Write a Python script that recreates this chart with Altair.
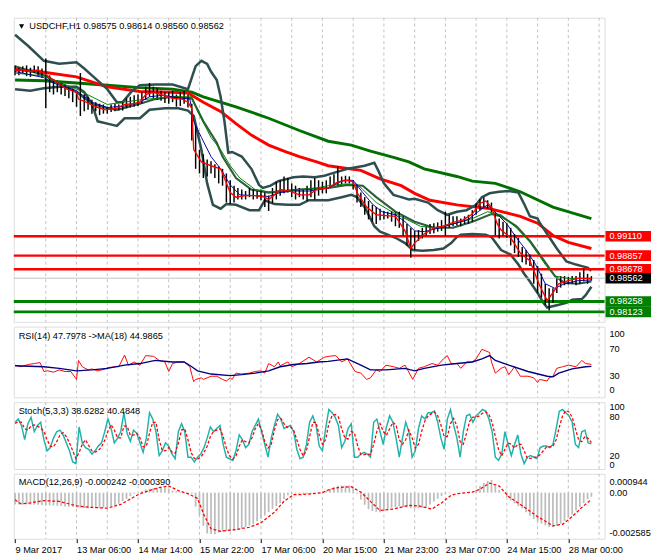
import altair as alt
import pandas as pd

# ------------------------------------------------------------------ texts
symbol_title = "USDCHF,H1  0.98575 0.98614 0.98560 0.98562"
rsi_title = "RSI(14) 47.7978  ->MA(18) 44.9865"
stoch_title = "Stoch(5,3,3) 38.6282 40.4848"
macd_title = "MACD(12,26,9) -0.000242 -0.000390"

date_labels = ["9 Mar 2017", "13 Mar 06:00", "14 Mar 14:00", "15 Mar 22:00", "17 Mar 06:00",
               "20 Mar 15:00", "21 Mar 23:00", "23 Mar 07:00", "24 Mar 15:00", "28 Mar 00:00"]
date_label_bars = [0, 32, 64, 96, 128, 160, 192, 224, 256, 288]
grid_bars = [16, 32, 48, 64, 80, 96, 112, 128, 144, 160, 176, 192, 208, 224, 240, 256, 272, 288, 304]

price_ticks = [1.01700, 1.01290, 1.00880, 1.00470, 1.00070, 0.99660, 0.99250, 0.98430, 0.98020]
level_values = [0.99110, 0.98857, 0.98678, 0.98562, 0.98258, 0.98123]
level_kinds = ["res", "res", "res", "last", "sup", "sup"]

# ------------------------------------------------------------------ price bars (one per 2 hours)
bar_high = [1.0134, 1.0131, 1.0133, 1.0134, 1.0131, 1.0134, 1.0133, 1.0130, 1.0143, 1.0121,
            1.0116, 1.0114, 1.0111, 1.0109, 1.0105, 1.0104, 1.0099, 1.0124, 1.0096, 1.0093,
            1.0089, 1.0086, 1.0084, 1.0083, 1.0080, 1.0083, 1.0084, 1.0083, 1.0086, 1.0091,
            1.0093, 1.0095, 1.0096, 1.0099, 1.0106, 1.0111, 1.0106, 1.0104, 1.0101, 1.0099,
            1.0099, 1.0101, 1.0096, 1.0099, 1.0101, 1.0096, 1.0084, 1.0055, 1.0024, 1.0018,
            1.0011, 1.0009, 1.0005, 1.0002, 0.9999, 0.9993, 0.9984, 0.9977, 0.9974, 0.9972,
            0.9970, 0.9974, 0.9972, 0.9970, 0.9972, 0.9968, 0.9964, 0.9974, 0.9982, 0.9984,
            0.9989, 0.9987, 0.9980, 0.9977, 0.9974, 0.9972, 0.9977, 0.9984, 0.9987, 0.9984,
            0.9982, 0.9984, 0.9989, 0.9992, 1.0002, 0.9989, 0.9990, 0.9989, 0.9984, 0.9977,
            0.9968, 0.9962, 0.9957, 0.9952, 0.9949, 0.9947, 0.9944, 0.9943, 0.9944, 0.9942,
            0.9943, 0.9937, 0.9927, 0.9922, 0.9918, 0.9919, 0.9922, 0.9924, 0.9927, 0.9928,
            0.9929, 0.9932, 0.9943, 0.9939, 0.9937, 0.9937, 0.9934, 0.9937, 0.9939, 0.9945,
            0.9954, 0.9959, 0.9962, 0.9958, 0.9955, 0.9943, 0.9934, 0.9930, 0.9928, 0.9922,
            0.9914, 0.9909, 0.9897, 0.9893, 0.9887, 0.9880, 0.9872, 0.9862, 0.9849, 0.9843,
            0.9843, 0.9856, 0.9859, 0.9859, 0.9858, 0.9859, 0.9859, 0.9864, 0.9869, 0.9862, 0.9859]
bar_low = [1.0121, 1.0121, 1.0124, 1.0120, 1.0119, 1.0124, 1.0121, 1.0118, 1.0078, 1.0099,
           1.0096, 1.0099, 1.0096, 1.0094, 1.0091, 1.0086, 1.0080, 1.0068, 1.0074, 1.0076,
           1.0071, 1.0074, 1.0069, 1.0071, 1.0071, 1.0073, 1.0074, 1.0075, 1.0075, 1.0078,
           1.0079, 1.0080, 1.0081, 1.0084, 1.0089, 1.0093, 1.0091, 1.0089, 1.0088, 1.0085,
           1.0084, 1.0086, 1.0080, 1.0081, 1.0084, 1.0079, 1.0036, 0.9999, 0.9993, 0.9987,
           0.9989, 0.9993, 0.9987, 0.9980, 0.9977, 0.9955, 0.9953, 0.9955, 0.9959, 0.9959,
           0.9959, 0.9962, 0.9959, 0.9960, 0.9958, 0.9949, 0.9944, 0.9954, 0.9959, 0.9964,
           0.9967, 0.9968, 0.9962, 0.9959, 0.9962, 0.9959, 0.9957, 0.9962, 0.9959, 0.9964,
           0.9967, 0.9967, 0.9974, 0.9977, 0.9977, 0.9979, 0.9980, 0.9980, 0.9972, 0.9955,
           0.9949, 0.9939, 0.9933, 0.9930, 0.9927, 0.9932, 0.9933, 0.9934, 0.9930, 0.9924,
           0.9922, 0.9912, 0.9899, 0.9883, 0.9893, 0.9905, 0.9908, 0.9912, 0.9914, 0.9915,
           0.9917, 0.9918, 0.9912, 0.9922, 0.9924, 0.9925, 0.9924, 0.9927, 0.9927, 0.9930,
           0.9939, 0.9945, 0.9949, 0.9947, 0.9942, 0.9912, 0.9908, 0.9912, 0.9909, 0.9899,
           0.9889, 0.9884, 0.9877, 0.9874, 0.9872, 0.9849, 0.9837, 0.9831, 0.9821, 0.9814,
           0.9824, 0.9837, 0.9844, 0.9847, 0.9848, 0.9849, 0.9847, 0.9849, 0.9852, 0.9849, 0.9853]

# ------------------------------------------------------------------ moving averages / bands (bar index, price)
ma_fast_red = [(0, 1.0128), (4, 1.0128), (8, 1.0126), (12, 1.0128), (15, 1.0124), (20, 1.0115), (27, 1.0103),
               (32, 1.0099), (33, 1.0090), (37, 1.0086), (42, 1.0080), (47, 1.0076), (53, 1.0078), (57, 1.0083),
               (62, 1.0084), (65, 1.0086), (68, 1.0096), (72, 1.0099), (77, 1.0095), (82, 1.0091), (87, 1.0090),
               (90, 1.0086), (92, 1.0078), (93, 1.0024), (97, 1.0008), (102, 1.0003), (107, 0.9999), (112, 0.9968),
               (115, 0.9962), (120, 0.9964), (125, 0.9964), (130, 0.9962), (132, 0.9959), (135, 0.9965),
               (138, 0.9972), (143, 0.9970), (148, 0.9965), (153, 0.9965), (157, 0.9972), (163, 0.9974),
               (168, 0.9982), (173, 0.9984), (176, 0.9982), (178, 0.9968), (183, 0.9949), (188, 0.9939),
               (193, 0.9938), (198, 0.9937), (203, 0.9918), (206, 0.9895), (208, 0.9902), (213, 0.9914),
               (218, 0.9922), (223, 0.9924), (228, 0.9929), (233, 0.9932), (238, 0.9940), (242, 0.9954),
               (245, 0.9957), (248, 0.9949), (251, 0.9927), (253, 0.9919), (258, 0.9909), (263, 0.9889),
               (268, 0.9879), (273, 0.9847), (277, 0.9827), (281, 0.9841), (283, 0.9849), (288, 0.9853),
               (293, 0.9856), (298, 0.9856), (300, 0.9856)]
ma_blue = [(0, 1.0126), (15, 1.0118), (20, 1.0111), (32, 1.0101), (40, 1.0086), (48, 1.0079), (57, 1.0081),
           (65, 1.0086), (70, 1.0093), (77, 1.0095), (87, 1.0091), (91, 1.0090), (93, 1.0061), (97, 1.0040),
           (102, 1.0015), (107, 0.9999), (112, 0.9978), (117, 0.9965), (125, 0.9964), (132, 0.9963),
           (138, 0.9968), (145, 0.9970), (153, 0.9970), (163, 0.9974), (171, 0.9984), (176, 0.9984),
           (181, 0.9968), (186, 0.9953), (191, 0.9943), (198, 0.9939), (203, 0.9930), (208, 0.9918),
           (213, 0.9917), (221, 0.9922), (228, 0.9927), (236, 0.9933), (241, 0.9943), (246, 0.9952),
           (251, 0.9940), (256, 0.9927), (261, 0.9909), (266, 0.9893), (271, 0.9874), (276, 0.9849),
           (281, 0.9843), (286, 0.9849), (293, 0.9853), (300, 0.9854)]
ma_green_thin = [(0, 1.0124), (15, 1.0120), (32, 1.0103), (48, 1.0083), (65, 1.0089), (82, 1.0093), (92, 1.0093),
                 (95, 1.0074), (102, 1.0040), (107, 1.0024), (112, 1.0003), (117, 0.9987), (125, 0.9972),
                 (132, 0.9969), (140, 0.9970), (148, 0.9972), (157, 0.9974), (163, 0.9977), (171, 0.9979),
                 (178, 0.9979), (181, 0.9972), (188, 0.9955), (196, 0.9943), (203, 0.9934), (211, 0.9924),
                 (218, 0.9922), (228, 0.9927), (238, 0.9934), (246, 0.9943), (253, 0.9939), (261, 0.9922),
                 (268, 0.9903), (276, 0.9874), (281, 0.9859), (288, 0.9856), (300, 0.9856)]
bb_mid = [(0, 1.0133), (15, 1.0121), (32, 1.0099), (40, 1.0084), (48, 1.0078), (53, 1.0076), (65, 1.0084),
          (73, 1.0090), (82, 1.0093), (92, 1.0091), (98, 1.0061), (105, 1.0033), (108, 1.0015), (115, 0.9987),
          (123, 0.9972), (132, 0.9968), (140, 0.9970), (148, 0.9972), (163, 0.9974), (173, 0.9978),
          (181, 0.9977), (188, 0.9962), (198, 0.9943), (208, 0.9930), (218, 0.9922), (228, 0.9922),
          (238, 0.9930), (248, 0.9940), (253, 0.9937), (261, 0.9924), (268, 0.9905), (276, 0.9877),
          (281, 0.9859), (286, 0.9850), (293, 0.9849), (300, 0.9852)]
bb_upper = [(0, 1.0174), (7, 1.0159), (15, 1.0140), (23, 1.0136), (32, 1.0138), (36, 1.0130), (40, 1.0121),
            (48, 1.0103), (53, 1.0086), (56, 1.0086), (61, 1.0101), (65, 1.0108), (73, 1.0109), (82, 1.0109),
            (90, 1.0103), (92, 1.0118), (94, 1.0133), (97, 1.0140), (100, 1.0136), (102, 1.0126), (105, 1.0115),
            (107, 1.0093), (109, 1.0061), (111, 1.0020), (113, 1.0021), (118, 1.0015), (123, 0.9999),
            (127, 0.9978), (129, 0.9974), (133, 0.9977), (137, 0.9983), (145, 0.9988), (150, 0.9989),
            (156, 0.9988), (161, 0.9990), (165, 0.9993), (173, 0.9999), (182, 1.0003), (187, 1.0007),
            (189, 0.9997), (192, 0.9980), (197, 0.9965), (201, 0.9962), (205, 0.9959), (208, 0.9960),
            (215, 0.9955), (220, 0.9945), (225, 0.9939), (230, 0.9943), (235, 0.9945), (240, 0.9952),
            (243, 0.9962), (247, 0.9967), (252, 0.9969), (257, 0.9970), (262, 0.9968), (265, 0.9953),
            (268, 0.9937), (272, 0.9934), (273, 0.9929), (277, 0.9914), (282, 0.9895), (287, 0.9878),
            (292, 0.9874), (295, 0.9872), (298, 0.9870), (300, 0.9866)]
bb_lower = [(0, 1.0103), (8, 1.0101), (15, 1.0104), (23, 1.0106), (32, 1.0106), (36, 1.0099), (40, 1.0084),
            (43, 1.0061), (48, 1.0058), (53, 1.0055), (57, 1.0065), (65, 1.0065), (70, 1.0076), (78, 1.0078),
            (85, 1.0078), (90, 1.0075), (93, 1.0068), (97, 1.0024), (100, 0.9980), (103, 0.9952),
            (107, 0.9947), (110, 0.9953), (115, 0.9952), (122, 0.9945), (127, 0.9945), (130, 0.9958),
            (135, 0.9953), (142, 0.9952), (148, 0.9952), (153, 0.9958), (163, 0.9958), (170, 0.9962),
            (175, 0.9965), (178, 0.9962), (182, 0.9949), (187, 0.9924), (190, 0.9917), (193, 0.9914),
            (198, 0.9909), (203, 0.9902), (207, 0.9893), (212, 0.9892), (218, 0.9893), (223, 0.9895),
            (227, 0.9902), (230, 0.9910), (232, 0.9913), (238, 0.9914), (245, 0.9913), (248, 0.9910),
            (253, 0.9893), (258, 0.9887), (262, 0.9874), (265, 0.9862), (268, 0.9852), (272, 0.9837),
            (275, 0.9824), (277, 0.9818), (282, 0.9821), (287, 0.9824), (290, 0.9828), (295, 0.9829),
            (297, 0.9834), (300, 0.9845)]
ma_slow_red = [(0, 1.0129), (15, 1.0125), (32, 1.0119), (48, 1.0106), (65, 1.0100), (82, 1.0099), (90, 1.0098),
               (98, 1.0086), (107, 1.0074), (115, 1.0058), (123, 1.0043), (132, 1.0030), (140, 1.0022),
               (148, 1.0015), (157, 1.0008), (163, 1.0003), (180, 0.9997), (190, 0.9986), (201, 0.9977),
               (208, 0.9967), (216, 0.9958), (230, 0.9952), (247, 0.9947), (263, 0.9937), (272, 0.9928),
               (280, 0.9912), (288, 0.9903), (300, 0.9895)]
ma_slow_green = [(0, 1.0115), (15, 1.0114), (32, 1.0111), (48, 1.0108), (65, 1.0105), (82, 1.0103), (92, 1.0099),
                 (98, 1.0093), (115, 1.0080), (132, 1.0065), (148, 1.0049), (163, 1.0035), (175, 1.0030),
                 (185, 1.0022), (197, 1.0014), (205, 1.0008), (213, 0.9999), (230, 0.9989), (238, 0.9983),
                 (250, 0.9980), (263, 0.9969), (280, 0.9949), (300, 0.9934)]

# ------------------------------------------------------------------ RSI (bar index, value)
rsi_line = [(0, 46.7), (3, 44.4), (7, 47.7), (10, 49.1), (13, 50.5), (15, 37.4), (17, 38.4), (20, 36.5), (23, 39.8),
            (26, 37.4), (29, 37.4), (32, 25.8), (33, 53.7), (35, 44.4), (38, 39.8), (40, 41.2), (43, 38.4),
            (47, 41.2), (48, 43.0), (52, 44.4), (54, 44.4), (57, 61.6), (59, 46.7), (62, 51.4), (65, 46.7),
            (68, 60.7), (72, 59.8), (75, 53.7), (78, 51.4), (80, 37.4), (82, 49.1), (85, 51.4), (88, 51.4),
            (91, 44.4), (92, 32.8), (93, 22.6), (94, 25.8), (97, 28.1), (98, 25.8), (102, 30.5), (105, 30.5),
            (108, 25.8), (110, 23.5), (112, 28.1), (113, 25.8), (115, 35.1), (118, 33.7), (122, 35.1),
            (125, 37.4), (128, 38.4), (130, 35.1), (132, 49.1), (135, 44.4), (137, 51.4), (138, 45.8),
            (142, 51.4), (144, 44.4), (148, 49.1), (153, 58.4), (157, 51.4), (161, 58.4), (164, 60.0),
            (167, 60.7), (170, 51.4), (173, 56.0), (177, 37.4), (180, 35.1), (183, 25.8), (185, 28.1),
            (188, 39.8), (190, 37.4), (193, 46.7), (197, 44.4), (200, 42.1), (203, 46.7), (207, 25.8),
            (210, 42.1), (213, 44.4), (217, 49.1), (220, 46.7), (223, 56.0), (225, 60.7), (227, 49.1),
            (230, 49.1), (232, 42.1), (235, 51.4), (238, 51.4), (240, 56.0), (242, 65.3), (243, 70.0),
            (247, 65.3), (248, 51.4), (250, 35.1), (253, 42.1), (255, 44.4), (257, 32.8), (260, 44.4),
            (263, 30.5), (267, 30.5), (270, 28.1), (272, 21.2), (273, 25.8), (277, 23.5), (278, 28.1),
            (280, 30.5), (282, 42.1), (285, 44.4), (288, 46.7), (292, 44.4), (295, 53.7), (297, 49.1),
            (300, 47.8)]
rsi_ma = [(0, 45.8), (15, 44.4), (23, 42.1), (32, 38.4), (40, 39.8), (48, 42.1), (57, 46.7), (65, 49.1), (73, 53.7),
          (82, 51.4), (88, 51.4), (92, 44.4), (95, 38.4), (102, 33.7), (112, 31.4), (118, 32.8), (125, 35.1),
          (132, 38.4), (138, 44.4), (145, 47.7), (152, 49.1), (158, 51.4), (163, 52.3), (173, 56.0), (180, 46.7),
          (185, 39.8), (193, 39.8), (203, 42.1), (208, 38.4), (213, 42.1), (222, 46.7), (230, 49.1), (238, 51.4),
          (243, 56.0), (247, 60.7), (250, 53.7), (257, 46.7), (267, 37.4), (277, 30.5), (280, 29.5), (283, 35.1),
          (290, 41.2), (297, 44.4), (300, 45.0)]

# ------------------------------------------------------------------ Stochastic (one value every 5/3 bar)
stoch_main = [72.1, 77.0, 67.2, 45.1, 69.7, 79.5, 57.4, 67.2, 72.1, 45.1,
              27.9, 32.8, 47.5, 57.4, 59.8, 52.5, 40.2, 27.9, 10.6, 8.2,
              64.8, 40.2, 32.8, 30.3, 22.9, 27.9, 35.2, 40.2, 57.4, 77.0,
              62.3, 40.2, 47.5, 57.4, 86.9, 54.9, 42.6, 59.8, 54.9, 40.2,
              25.4, 47.5, 86.9, 77.0, 57.4, 20.5, 27.9, 40.2, 35.2, 22.9,
              15.6, 57.4, 69.7, 57.4, 18.0, 18.0, 10.6, 18.0, 22.9, 32.8,
              47.5, 64.8, 57.4, 62.3, 67.2, 37.7, 18.0, 15.6, 13.1, 27.9,
              52.5, 45.1, 32.8, 37.7, 57.4, 67.2, 77.0, 57.4, 37.7, 18.0,
              47.5, 67.2, 84.4, 77.0, 62.3, 64.8, 67.2, 57.4, 30.3, 15.6,
              18.0, 37.7, 72.1, 82.0, 67.2, 35.2, 27.9, 62.3, 91.8,
              86.9, 79.5, 67.2, 32.8, 42.6, 62.3, 69.7, 18.0, 18.0, 22.9,
              25.4, 22.9, 18.0, 72.1, 77.0, 57.4, 37.7, 64.8, 82.0, 72.1,
              47.5, 18.0, 47.5, 72.1, 57.4, 18.0, 27.9, 62.3, 82.0, 77.0,
              86.9, 86.9, 89.3, 72.1, 47.5, 30.3, 77.0, 91.8, 67.2, 47.5,
              18.0, 57.4, 82.0, 84.4, 72.1, 82.0, 86.9, 91.8, 89.3, 77.0,
              57.4, 18.0, 13.1, 22.9, 57.4, 37.7, 20.5, 37.7, 52.5, 22.9,
              8.2, 18.0, 20.5, 18.0, 15.6, 32.8, 35.2, 35.2, 32.8, 37.7,
              62.3, 89.3, 91.8, 86.9, 82.0, 72.1, 37.7, 32.8, 57.4, 59.8,
              40.2, 38.6]
stoch_signal = [70, 73, 72, 62, 60, 66, 68, 66, 63, 58,
                45, 35, 34, 42, 52, 56, 50, 40, 28, 16,
                25, 38, 45, 36, 28, 26, 28, 34, 44, 58,
                68, 60, 48, 48, 66, 66, 52, 52, 55, 48,
                34, 35, 55, 72, 72, 45, 28, 28, 33, 26,
                24, 40, 60, 62, 45, 25, 16, 15, 18, 25,
                35, 50, 58, 60, 62, 50, 32, 20, 15, 20,
                35, 45, 42, 40, 48, 62, 70, 60, 42, 32,
                38, 60, 76, 78, 70, 64, 65, 60, 45, 30,
                20, 28, 50, 72, 72, 52, 38, 45, 70,
                82, 84, 80, 62, 48, 46, 58, 55, 36, 22,
                22, 23, 22, 38, 58, 70, 58, 52, 62, 72,
                68, 45, 38, 45, 60, 48, 32, 38, 58, 74,
                82, 85, 88, 82, 68, 50, 50, 70, 78, 66,
                42, 38, 55, 74, 80, 80, 82, 86, 88, 84,
                72, 50, 30, 20, 30, 40, 38, 32, 38, 38,
                28, 16, 16, 18, 18, 22, 28, 34, 34, 35,
                45, 65, 82, 90, 88, 80, 62, 45, 42, 50,
                47, 40.5]

# ------------------------------------------------------------------ MACD
macd_hist = [-0.00068, -0.00068, -0.00068, -0.00068, -0.00069, -0.00069, -0.0007, -0.00071, -0.00072, -0.00073,
             -0.00074, -0.00075, -0.00077, -0.00079, -0.00081, -0.00083, -0.00085, -0.00087, -0.00088, -0.00089,
             -0.00089, -0.00088, -0.00087, -0.00086, -0.00085, -0.0008, -0.00073, -0.00064, -0.0005, -0.00036,
             -0.0002, -0.00006, 0.00001, 0.00008, 0.00018, 0.00023, 0.00027, 0.00029, 0.00029, 0.00029,
             0.00022, 0.00012, 0.00008, 0.00004, 0.00002, -0.00002, -0.00006, -0.0008, -0.0013, -0.0019,
             -0.00235, -0.00238, -0.0024, -0.0023, -0.00225, -0.00222, -0.0022, -0.00218, -0.00215, -0.00207,
             -0.00198, -0.00189, -0.0018, -0.00165, -0.0015, -0.00132, -0.00112, -0.00094, -0.00077, -0.0006,
             -0.00036, -0.00015, -0.00008, -0.00006, -0.00006, -0.00006, -0.00006, -0.00006, -0.00005, -0.00003,
             0.0, 0.00012, 0.00022, 0.00032, 0.0004, 0.00041, 0.00041, 0.00041, 0.00025, -0.00006,
             -0.0004, -0.0007, -0.00095, -0.00105, -0.0011, -0.00112, -0.00105, -0.00095, -0.00087, -0.00082,
             -0.0008, -0.00082, -0.00086, -0.0009, -0.00092, -0.0009, -0.00087, -0.00082, -0.00068, -0.00052,
             -0.00035, -0.0002, -0.0001, -0.00004, -0.00001, 0.0, 0.00001, 0.00002, 0.00003, 0.00003,
             0.00015, 0.00038, 0.00055, 0.00068, 0.00073, 0.00038, 0.00015, 0.0, -0.00025, -0.00045,
             -0.00062, -0.00078, -0.0009, -0.00112, -0.00133, -0.00152, -0.00165, -0.00178, -0.00188, -0.00197,
             -0.00198, -0.0019, -0.00178, -0.00163, -0.00145, -0.00125, -0.00103, -0.00082, -0.0006, -0.00038,
             -0.00024]
macd_signal = [(0, -0.00041), (3, -0.00064), (8, -0.00059), (15, -0.00046), (23, -0.0005), (32, -0.00076),
               (40, -0.00085), (48, -0.00089), (55, -0.00068), (62, -0.00024), (65, -0.00006), (70, 0.00012),
               (75, 0.00029), (80, 0.00038), (85, 0.00012), (90, -0.00006), (95, -0.00033), (98, -0.0012),
               (102, -0.00208), (107, -0.00222), (115, -0.00212), (122, -0.00199), (128, -0.00173),
               (135, -0.00112), (140, -0.0005), (145, -0.00012), (148, -0.00012), (155, -0.00006), (160, 0.0),
               (163, 0.00015), (168, 0.00029), (175, 0.00034), (180, 0.00003), (185, -0.0005), (190, -0.00103),
               (197, -0.00094), (205, -0.00073), (210, -0.00076), (217, -0.00094), (222, -0.00059),
               (227, -0.00015), (230, -0.00006), (238, 0.00003), (242, 0.0002), (247, 0.00055), (252, 0.00038),
               (257, -0.00024), (263, -0.00068), (272, -0.00138), (280, -0.00191), (285, -0.00182),
               (290, -0.00138), (295, -0.00085), (300, -0.00039)]

# ------------------------------------------------------------------ layout / style
W = 610
H_MAIN, H_RSI, H_STO, H_MACD = 314, 73, 69, 67
X_DOM = [-0.65, 306.85]
Y_MAIN = [0.97993, 1.01962]
Y_RSI = [-0.5, 103.2]
Y_STO = [-0.3, 103.1]
Y_MACD = [-0.00265, 0.00108]
FONT = "Liberation Sans"
FS = 9.5
GRID = "#c0c0c0"
BB_COLOR = "#2f4f4f"

one = pd.DataFrame({"a": [0]})


def pairs(p):
    return pd.DataFrame(p, columns=["i", "v"])


def xch(axis=None):
    return alt.X("i:Q", scale=alt.Scale(domain=X_DOM, nice=False, zero=False), axis=axis)


def vgrid(axis=None):
    return alt.Chart(pd.DataFrame({"i": grid_bars})).mark_rule(
        color=GRID, strokeDash=[3, 3], strokeWidth=1).encode(x=xch(axis))


def line(df, color, width, y_scale, dash=None, axis=None):
    kw = dict(color=color, strokeWidth=width, interpolate="linear")
    if dash:
        kw["strokeDash"] = dash
    return alt.Chart(df).mark_line(**kw).encode(
        x=xch(axis), y=alt.Y("v:Q", scale=y_scale, axis=None))


def panel_text(txt, x, y, color="black", align="left"):
    return alt.Chart(one).mark_text(text=txt, font=FONT, fontSize=FS, color=color, align=align,
                                    baseline="middle").encode(x=alt.value(x), y=alt.value(y))


# ------------------------------------------------------------------ main price panel
ys_main = alt.Scale(domain=Y_MAIN, nice=False, zero=False)
main_axis = alt.Axis(orient="right", values=price_ticks, format=".5f", grid=True, gridDash=[3, 3],
                     gridColor=GRID, tickSize=4, tickColor="black", domain=False, labelFont=FONT,
                     labelFontSize=FS, labelColor="black", labelPadding=2, labelFlush=False,
                     labelOverlap=False, title=None)

ygrid_main = alt.Chart(one).mark_point(opacity=0).encode(
    x=xch(), y=alt.Y("a:Q", scale=ys_main, axis=main_axis))

bars_df = pd.DataFrame({"i": [2 * k for k in range(len(bar_high))], "hi": bar_high, "lo": bar_low})
bars = alt.Chart(bars_df).mark_rule(color="black", strokeWidth=1.5).encode(
    x=xch(), y=alt.Y("lo:Q", scale=ys_main, axis=None), y2="hi:Q")

kind_color = {"res": "#ff0000", "last": "#c0c0c0", "sup": "#008000"}
kind_width = {"res": 2.5, "last": 1.0, "sup": 3.0}
kind_box = {"res": "#ff0000", "last": "#000000", "sup": "#008000"}
px = (Y_MAIN[1] - Y_MAIN[0]) / H_MAIN
lv = pd.DataFrame({
    "v": level_values,
    "c": [kind_color[k] for k in level_kinds],
    "w": [kind_width[k] for k in level_kinds],
    "b": [kind_box[k] for k in level_kinds],
    "t": [f"{v:.5f}" for v in level_values],
})
lv["lo"] = lv["v"] - 5.5 * px
lv["hi"] = lv["v"] + 5.5 * px

levels = alt.Chart(lv).mark_rule().encode(
    y=alt.Y("v:Q", scale=ys_main, axis=None),
    color=alt.Color("c:N", scale=None),
    strokeWidth=alt.StrokeWidth("w:Q", scale=None))
boxes = alt.Chart(lv).mark_rect().encode(
    x=alt.value(W + 1), x2=alt.value(W + 48),
    y=alt.Y("lo:Q", scale=ys_main, axis=None), y2="hi:Q",
    color=alt.Color("b:N", scale=None))
box_text = alt.Chart(lv).mark_text(font=FONT, fontSize=FS, color="white", align="left",
                                   baseline="middle").encode(
    x=alt.value(W + 5), y=alt.Y("v:Q", scale=ys_main, axis=None), text="t:N")

main = alt.layer(
    vgrid(), ygrid_main,
    line(pairs(ma_slow_green), "#007000", 3, ys_main),
    line(pairs(ma_slow_red), "#ff0000", 3, ys_main),
    line(pairs(bb_upper), BB_COLOR, 2.6, ys_main),
    line(pairs(bb_lower), BB_COLOR, 2.6, ys_main),
    line(pairs(bb_mid), "#2e5e3e", 2.2, ys_main),
    levels,
    bars,
    line(pairs(ma_green_thin), "#008000", 1, ys_main),
    line(pairs(ma_blue), "#0000a0", 1, ys_main),
    line(pairs(ma_fast_red), "#ff0000", 1.4, ys_main),
    boxes, box_text,
    alt.Chart(one).mark_point(shape="triangle-down", filled=True, color="black", size=28, opacity=1).encode(
        x=alt.value(8), y=alt.value(9)),
    panel_text(symbol_title, 16, 9),
).properties(width=W, height=H_MAIN)

# ------------------------------------------------------------------ RSI panel
ys_rsi = alt.Scale(domain=Y_RSI, nice=False, zero=False)
sub_axis = dict(orient="right", labels=False, grid=True, gridDash=[3, 3], gridColor=GRID, tickSize=4,
                tickColor="black", domain=False, title=None)
rsi_grid = alt.Chart(one).mark_point(opacity=0).encode(
    x=xch(), y=alt.Y("a:Q", scale=ys_rsi, axis=alt.Axis(values=[30, 70], **sub_axis)))
rsi_lbl = pd.DataFrame({"v": [70, 30], "t": ["70", "30"]})
rsi = alt.layer(
    vgrid(), rsi_grid,
    line(pairs(rsi_line), "#ff0000", 1, ys_rsi),
    line(pairs(rsi_ma), "#000080", 1.4, ys_rsi),
    panel_text(rsi_title, 5, 10),
    panel_text("100", W + 5, 8),
    alt.Chart(rsi_lbl).mark_text(font=FONT, fontSize=FS, color="black", align="left", baseline="middle").encode(
        x=alt.value(W + 5), y=alt.Y("v:Q", scale=ys_rsi, axis=None), text="t:N"),
    panel_text("0", W + 5, 66),
).properties(width=W, height=H_RSI)

# ------------------------------------------------------------------ Stochastic panel
ys_sto = alt.Scale(domain=Y_STO, nice=False, zero=False)
stoch_step = 5 / 3
sto_df = pd.DataFrame({"i": [k * stoch_step for k in range(len(stoch_main))], "v": stoch_main})
sig_df = pd.DataFrame({"i": [k * stoch_step for k in range(len(stoch_signal))], "v": stoch_signal})
sto_grid = alt.Chart(one).mark_point(opacity=0).encode(
    x=xch(), y=alt.Y("a:Q", scale=ys_sto, axis=alt.Axis(values=[20, 80], **sub_axis)))
sto_lbl = pd.DataFrame({"v": [80, 20], "t": ["80", "20"]})
sto = alt.layer(
    vgrid(), sto_grid,
    line(sto_df, "#20b2aa", 1.5, ys_sto),
    line(sig_df, "#ff0000", 1.3, ys_sto, dash=[3, 2]),
    panel_text(stoch_title, 5, 9),
    panel_text("100", W + 5, 5),
    alt.Chart(sto_lbl).mark_text(font=FONT, fontSize=FS, color="black", align="left", baseline="middle").encode(
        x=alt.value(W + 5), y=alt.Y("v:Q", scale=ys_sto, axis=None), text="t:N"),
    panel_text("0", W + 5, 65),
).properties(width=W, height=H_STO)

# ------------------------------------------------------------------ MACD panel
ys_macd = alt.Scale(domain=Y_MACD, nice=False, zero=False)
label_expr = "[" + ",".join(f"'{s}'" for s in date_labels) + "][round(datum.value/32)]"
x_axis = alt.Axis(values=date_label_bars, labelExpr=label_expr, labelAlign="left", labelPadding=2,
                  tickSize=4, tickColor="black", grid=False, domain=False, labelFont=FONT, labelFontSize=FS,
                  labelColor="black", labelFlush=False, labelOverlap=False, title=None, labelBound=False)
hist_df = pd.DataFrame({"i": [2 * k for k in range(len(macd_hist))], "v": macd_hist})
hist = alt.Chart(hist_df).mark_rule(color="#bdbdbd", strokeWidth=1.8).encode(
    x=xch(x_axis), y=alt.Y("v:Q", scale=ys_macd, axis=None), y2=alt.datum(0))
macd = alt.layer(
    vgrid(x_axis),
    hist,
    line(pairs(macd_signal), "#ff0000", 1.3, ys_macd, dash=[3, 2], axis=x_axis),
    panel_text(macd_title, 5, 9),
    panel_text("0.000944", W + 5, 8),
    alt.Chart(one).mark_text(text="0.00", font=FONT, fontSize=FS, color="black", align="left",
                             baseline="middle").encode(
        x=alt.value(W + 5), y=alt.Y("a:Q", scale=ys_macd, axis=None)),
    panel_text("-0.002585", W + 5, 61),
).properties(width=W, height=H_MACD)

chart = alt.vconcat(main, rsi, sto, macd, spacing=3).resolve_scale(
    x="independent", y="independent").properties(padding=0).configure_view(
    stroke="black", strokeWidth=1).configure(background="white")

chart.save("out.html", embed_options={"renderer": "svg", "actions": False})
